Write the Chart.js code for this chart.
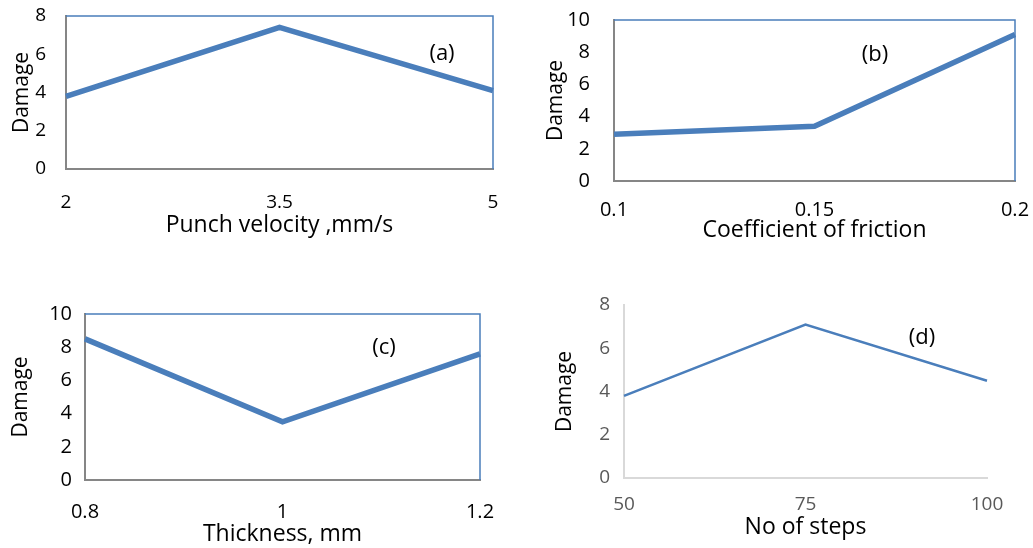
<!DOCTYPE html>
<html>
<head>
<meta charset="utf-8">
<script src="https://cdn.jsdelivr.net/npm/chart.js@4.4.0/dist/chart.umd.min.js"></script>
<style>
  body { margin: 0; background: #fff; width: 1033px; height: 548px; position: relative; overflow: hidden; font-family: "Open Sans", sans-serif; }
  .panel { position: absolute; }
  .tag { position: absolute; font-size: 22px; transform: translate(-50%, -50%); color: #000; }
</style>
</head>
<body>
<div class="panel" style="left:0;top:0;width:520px;height:250px"><canvas id="chartA"></canvas></div>
<div class="panel" style="left:520px;top:0;width:513px;height:250px"><canvas id="chartB"></canvas></div>
<div class="panel" style="left:0;top:290px;width:520px;height:258px"><canvas id="chartC"></canvas></div>
<div class="panel" style="left:520px;top:290px;width:513px;height:258px"><canvas id="chartD"></canvas></div>
<div class="tag" style="left:442px;top:51px">(a)</div>
<div class="tag" style="left:875px;top:52px">(b)</div>
<div class="tag" style="left:384px;top:345px">(c)</div>
<div class="tag" style="left:922px;top:335px">(d)</div>
<script>
// data
const velocityLabels = ['2', '3.5', '5'];
const velocityDamage = [3.8, 7.4, 4.1];

const frictionLabels = ['0.1', '0.15', '0.2'];
const frictionDamage = [2.9, 3.4, 9.1];

const thicknessLabels = ['0.8', '1', '1.2'];
const thicknessDamage = [8.5, 3.5, 7.6];

const stepsLabels = ['50', '75', '100'];
const stepsDamage = [3.8, 7.1, 4.5];

const blue = '#4a7ebb';

// top + right edge of the plot box
const framePlugin = {
  id: 'frame',
  afterDraw(chart, args, opts) {
    if (!opts.color) return;
    const a = chart.chartArea;
    const ctx = chart.ctx;
    ctx.save();
    ctx.strokeStyle = opts.color;
    ctx.lineWidth = 1.5;
    ctx.beginPath();
    ctx.moveTo(a.left, a.top);
    ctx.lineTo(a.right, a.top);
    ctx.lineTo(a.right, a.bottom);
    ctx.stroke();
    ctx.restore();
  }
};

// labels may hang over the plot edge, don't let chart.js shrink the plot for them
function noOverhang(scale) {
  scale.paddingTop = 0;
  scale.paddingBottom = 0;
  scale.paddingLeft = 0;
  scale.paddingRight = 0;
}

function makeChart(id, s) {
  return new Chart(document.getElementById(id), {
    type: 'line',
    data: {
      labels: s.labels,
      datasets: [{
        data: s.values,
        borderColor: blue,
        borderWidth: s.lineWidth,
        pointRadius: 0,
        tension: 0
      }]
    },
    options: {
      responsive: true,
      maintainAspectRatio: false,
      animation: false,
      layout: { padding: { top: s.padTop, right: s.padRight, left: 0, bottom: 0 } },
      plugins: {
        legend: { display: false },
        tooltip: { enabled: false },
        frame: { color: s.frame }
      },
      scales: {
        x: {
          grid: { display: false, drawTicks: false },
          border: { color: s.axisColor, width: s.axisWidth },
          ticks: { color: s.tickColor, font: { family: 'Open Sans', size: s.tickSize }, padding: s.xTickPad, maxRotation: 0 },
          title: { display: true, text: s.xTitle, color: '#000', font: { family: 'Open Sans', size: 23 }, padding: { top: 0, bottom: s.xTitlePad } },
          afterFit(scale) { scale.height = s.xHeight; noOverhang(scale); }
        },
        y: {
          min: 0,
          max: s.yMax,
          grid: { display: false, drawTicks: false },
          border: { color: s.axisColor, width: s.axisWidth },
          ticks: { stepSize: 2, color: s.tickColor, font: { family: 'Open Sans', size: s.tickSize }, padding: s.yTickPad },
          title: { display: true, text: 'Damage', color: '#000', font: { family: 'Open Sans', size: 21 }, padding: { top: s.yTitlePad, bottom: 0 } },
          afterFit(scale) { scale.width = s.yWidth; noOverhang(scale); }
        }
      }
    },
    plugins: [framePlugin]
  });
}

makeChart('chartA', {
  labels: velocityLabels, values: velocityDamage, yMax: 8,
  xTitle: 'Punch velocity ,mm/s', lineWidth: 5.5, frame: blue,
  axisColor: '#868686', axisWidth: 2, tickColor: '#000', tickSize: 19,
  padTop: 16, padRight: 27, yWidth: 66, xHeight: 81,
  yTickPad: 20, xTickPad: 22, yTitlePad: 9, xTitlePad: 11
});

makeChart('chartB', {
  labels: frictionLabels, values: frictionDamage, yMax: 10,
  xTitle: 'Coefficient of friction', lineWidth: 5.5, frame: blue,
  axisColor: '#868686', axisWidth: 2, tickColor: '#000', tickSize: 20,
  padTop: 20, padRight: 18, yWidth: 94, xHeight: 69,
  yTickPad: 24, xTickPad: 17, yTitlePad: 23, xTitlePad: 6
});

makeChart('chartC', {
  labels: thicknessLabels, values: thicknessDamage, yMax: 10,
  xTitle: 'Thickness, mm', lineWidth: 5.5, frame: blue,
  axisColor: '#868686', axisWidth: 2, tickColor: '#000', tickSize: 20,
  padTop: 24, padRight: 40, yWidth: 85, xHeight: 68,
  yTickPad: 13, xTickPad: 20, yTitlePad: 8, xTitlePad: 0
});

makeChart('chartD', {
  labels: stepsLabels, values: stepsDamage, yMax: 8,
  xTitle: 'No of steps', lineWidth: 2.5, frame: null,
  axisColor: '#d9d9d9', axisWidth: 2, tickColor: '#595959', tickSize: 19,
  padTop: 15, padRight: 46, yWidth: 104, xHeight: 70,
  yTickPad: 14, xTickPad: 15, yTitlePad: 32, xTitlePad: 7
});
</script>
</body>
</html>
